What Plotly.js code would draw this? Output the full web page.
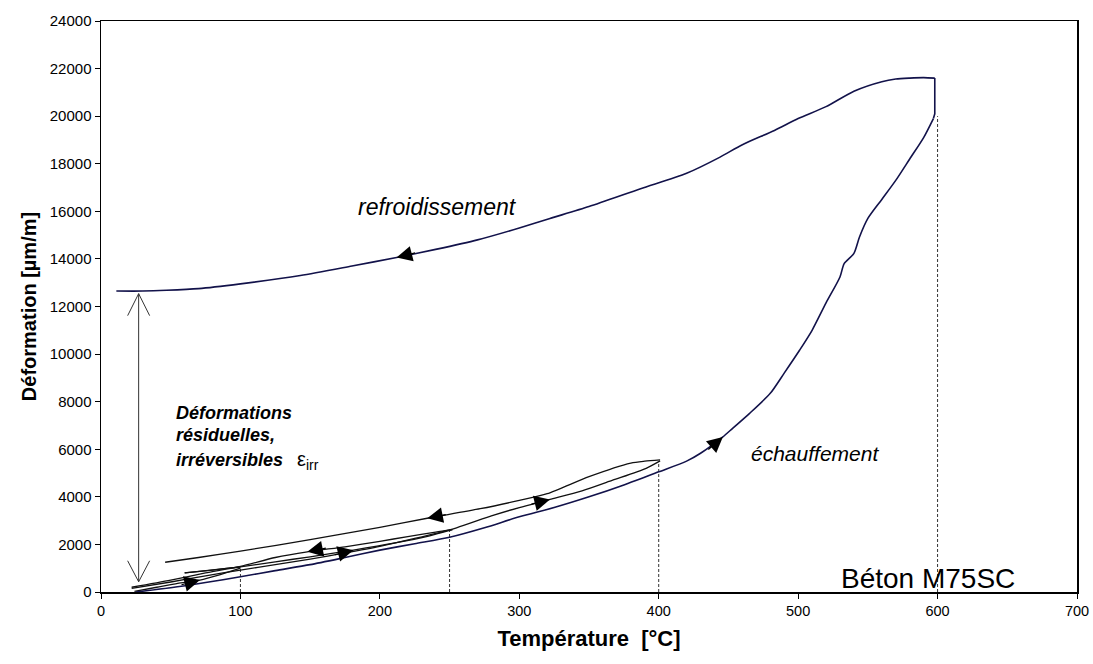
<!DOCTYPE html>
<html>
<head>
<meta charset="utf-8">
<script src="https://cdn.plot.ly/plotly-3.0.1.min.js"></script>
<style>html,body{margin:0;padding:0;background:#fff;}#chart{width:1093px;height:664px;}</style>
</head>
<body>
<div id="chart"></div>
<script>
// ---- data ----
const heat1T = [24, 40, 55, 71, 85, 100];
const heat1D = [30, 200, 360, 500, 720, 1000];
const cool1T = [100, 85, 72, 60];
const cool1D = [1050, 960, 880, 800];
const heat2T = [60, 80, 100, 125, 150, 181, 210, 235, 252];
const heat2D = [800, 920, 1060, 1270, 1480, 1760, 2050, 2350, 2620];
const cool2T = [252, 240, 220, 200, 175, 148, 125, 100, 75, 50, 22];
const cool2D = [2620, 2520, 2330, 2130, 1900, 1690, 1450, 1080, 800, 500, 200];
const heat3T = [22, 50, 75, 100, 125, 150, 175, 200, 225, 255, 280, 300, 322, 345, 367, 391, 401];
const heat3D = [150, 420, 680, 920, 1150, 1380, 1640, 1920, 2250, 2700, 3200, 3550, 3890, 4250, 4700, 5200, 5510];
const cool3T = [401, 390, 380, 350, 320, 300, 272, 234, 200, 150, 100, 70, 46];
const cool3D = [5550, 5500, 5420, 4850, 4130, 3850, 3500, 3100, 2720, 2200, 1720, 1450, 1250];
const mainHeatT = [25, 50, 75, 100, 125, 150, 175, 200, 225, 250, 275, 300, 325, 350, 375, 400, 420, 430, 446, 453, 465, 480, 490, 501, 510, 520, 530, 533, 540, 544, 550, 560, 570, 580, 590, 597];
const mainHeatD = [0, 180, 400, 640, 900, 1150, 1450, 1760, 2030, 2300, 2700, 3160, 3550, 4000, 4500, 5050, 5500, 5830, 6520, 6880, 7500, 8350, 9200, 10160, 11000, 12150, 13240, 13800, 14230, 14920, 15700, 16500, 17300, 18200, 19100, 19900];
const holdT = [597, 598, 598];
const holdD = [19900, 20100, 21600];
const mainCoolT = [598, 590, 580, 570, 560, 540, 520, 500, 483, 460, 444, 420, 387, 350, 322, 300, 270, 240, 212, 180, 143, 100, 70, 47, 30, 11];
const mainCoolD = [21600, 21620, 21600, 21560, 21450, 21050, 20400, 19900, 19400, 18800, 18280, 17600, 16950, 16200, 15700, 15300, 14800, 14400, 14060, 13700, 13300, 12950, 12750, 12680, 12650, 12650];
// dashed guides: temperature levels and the strain where each cycle turned
const guideT = [100, 250, 400, 600];
const guideD = [1000, 2620, 5450, 20000];
// direction arrows on the curves: [T, D, tail dx px, tail dy px]
const arrowT = [212, 446, 234, 322, 148, 181, 71];
const arrowD = [14060, 6520, 3100, 3890, 1690, 1760, 500];
const arrowAx = [20, -16, 20, -20, 20, -20, -20];
const arrowAy = [-5, 14, -4, 5, -4, 5, 5];
// residual strain arrow
const resT = 27, resTop = 12540, resBottom = 430;

const xTicks = [0, 100, 200, 300, 400, 500, 600, 700];
const yTicks = [0, 2000, 4000, 6000, 8000, 10000, 12000, 14000, 16000, 18000, 20000, 22000, 24000];

const FONT = 'Arial, "Liberation Sans", sans-serif';
const loopColor = '#111111';
const mainColor = '#12124a';

function line(x, y, color, w, smooth) {
  const l = {color: color, width: w || 1.3};
  if (smooth) { l.shape = 'spline'; l.smoothing = 0.7; }
  return {x: x, y: y, mode: 'lines', type: 'scatter', hoverinfo: 'skip', line: l, showlegend: false};
}

const traces = [];
guideT.forEach((t, i) => {
  traces.push({x: [t, t], y: [0, guideD[i]], mode: 'lines', type: 'scatter', showlegend: false,
               hoverinfo: 'skip', line: {color: '#333', width: 1, dash: '3px,2px'}});
});
traces.push(line(heat1T, heat1D, loopColor, 1.3, true));
traces.push(line(cool1T, cool1D, loopColor, 1.3, true));
traces.push(line(heat2T, heat2D, loopColor, 1.3, true));
traces.push(line(cool2T, cool2D, loopColor, 1.3, true));
traces.push(line(heat3T, heat3D, loopColor, 1.3, true));
traces.push(line(cool3T, cool3D, loopColor, 1.3, true));
traces.push(line(mainHeatT, mainHeatD, mainColor, 1.6, true));
traces.push(line(holdT, holdD, mainColor, 1.6, false));
traces.push(line(mainCoolT, mainCoolD, mainColor, 1.6, true));

const annotations = [];
arrowT.forEach((t, i) => {
  annotations.push({x: t, y: arrowD[i], xref: 'x', yref: 'y', text: '', showarrow: true,
    arrowhead: 2, arrowsize: 2.6, arrowwidth: 1.2, arrowcolor: '#000',
    ax: arrowAx[i], ay: arrowAy[i]});
});
const txt = (x, y, text, size, opts) => Object.assign({x: x, y: y, xref: 'x', yref: 'y', text: text,
  showarrow: false, font: {family: FONT, size: size, color: '#000'}}, opts || {});
annotations.push(txt(241, 16170, '<i>refroidissement</i>', 23));
annotations.push(txt(512, 5840, '<i>échauffement</i>', 21));
annotations.push(txt(52.6, 7520, '<b><i>Déformations</i></b>', 18, {xanchor: 'left'}));
annotations.push(txt(52.6, 6590, '<b><i>résiduelles,</i></b>', 18, {xanchor: 'left'}));
annotations.push(txt(52.6, 5540, '<b><i>irréversibles</i></b>', 18, {xanchor: 'left'}));
annotations.push(txt(139, 5540, 'ε<sub>irr</sub>', 20, {xanchor: 'left'}));
annotations.push(txt(593, 580, 'Béton M75SC', 28));

const shapes = [
  {type: 'line', xref: 'x', yref: 'y', x0: resT, x1: resT, y0: resBottom, y1: resTop,
   line: {color: '#333', width: 1}},
  {type: 'path', xref: 'x', yref: 'y', xsizemode: 'pixel', ysizemode: 'pixel',
   xanchor: resT, yanchor: resTop, path: 'M -11,-22 L 0,0 L 11,-22', line: {color: '#333', width: 1}},
  {type: 'path', xref: 'x', yref: 'y', xsizemode: 'pixel', ysizemode: 'pixel',
   xanchor: resT, yanchor: resBottom, path: 'M -11,21 L 0,0 L 11,21', line: {color: '#333', width: 1}}
];

const layout = {
  width: 1093, height: 664,
  margin: {l: 101, r: 16, t: 21, b: 72},
  paper_bgcolor: '#fff', plot_bgcolor: '#fff',
  showlegend: false,
  font: {family: FONT, size: 14, color: '#000'},
  xaxis: {range: [0, 700], tickvals: xTicks, ticktext: xTicks.map(String),
          showgrid: false, zeroline: false, showline: true, linecolor: '#000', linewidth: 1.5,
          mirror: true, ticks: 'outside', ticklen: 5, tickcolor: '#000',
          tickfont: {family: FONT, size: 14.5},
          title: {text: '<b>Température  [°C]</b>', font: {family: FONT, size: 22}, standoff: 12}},
  yaxis: {range: [0, 24000], tickvals: yTicks, ticktext: yTicks.map(String),
          showgrid: false, zeroline: false, showline: true, linecolor: '#000', linewidth: 1.5,
          mirror: true, ticks: 'outside', ticklen: 5, tickcolor: '#000',
          tickfont: {family: FONT, size: 15},
          title: {text: '<b>Déformation [µm/m]</b>', font: {family: FONT, size: 20}, standoff: 8}},
  annotations: annotations,
  shapes: shapes
};

Plotly.newPlot('chart', traces, layout, {staticPlot: true, displayModeBar: false});
</script>
</body>
</html>
